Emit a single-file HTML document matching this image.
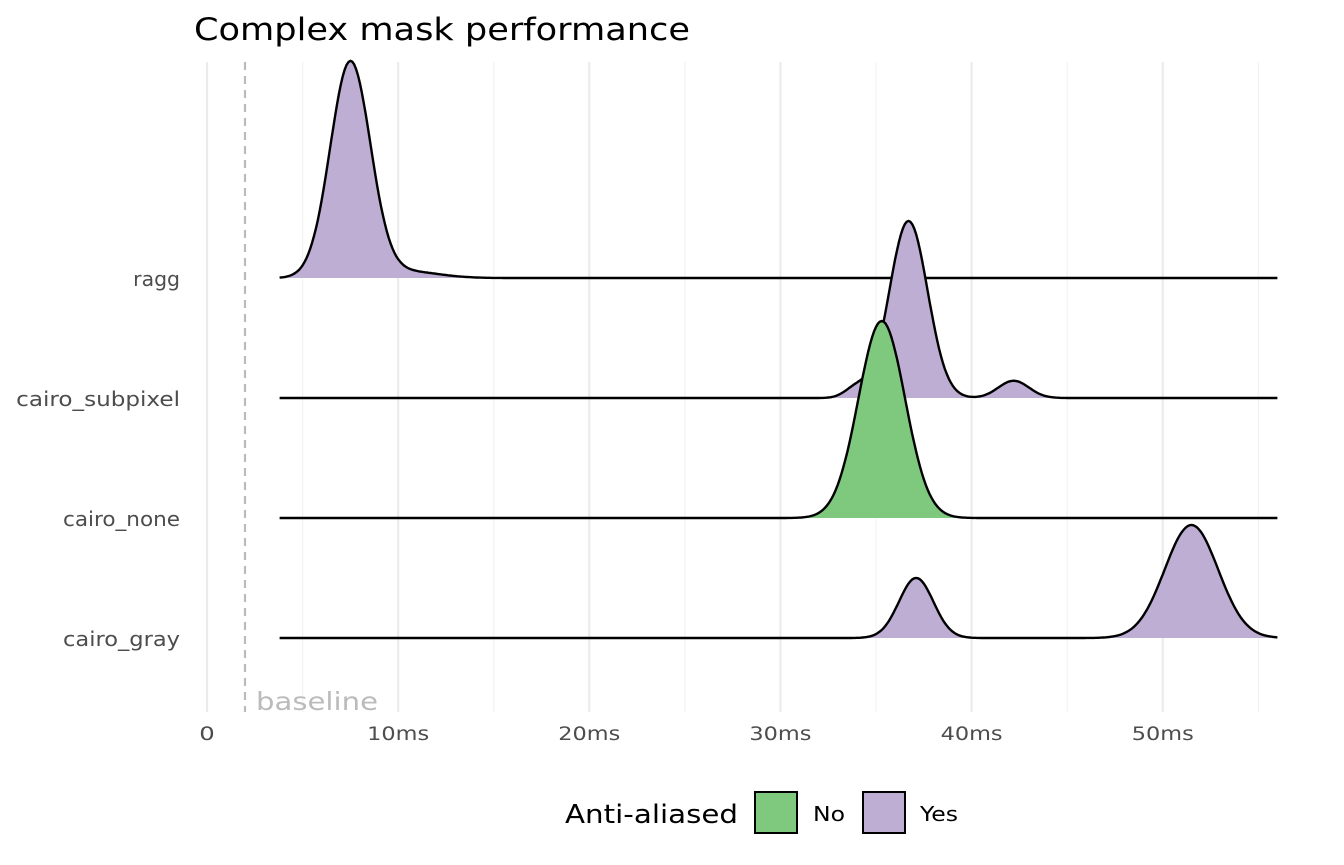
<!DOCTYPE html>
<html><head><meta charset="utf-8"><style>
body{margin:0;background:#fff;}
svg{display:block;font-family:"DejaVu Sans","Liberation Sans",sans-serif;}
</style></head><body>
<svg id="chart" width="1344" height="865" viewBox="0 0 1344 865">
<text x="194" y="40" font-size="31" fill="#000" textLength="496" lengthAdjust="spacingAndGlyphs">Complex mask performance</text>
<g id="grid"></g>
<line x1="245" x2="245" y1="62" y2="712" stroke="#bbb" stroke-width="2.2" stroke-dasharray="8,6"/>
<text x="256" y="710" font-size="25" fill="#bbb" textLength="122" lengthAdjust="spacingAndGlyphs">baseline</text>
<g id="ridges"></g>
<g id="ylabels"></g>
<g id="xlabels"></g>
<g>
<text x="565" y="823" font-size="26" fill="#000" textLength="173" lengthAdjust="spacingAndGlyphs">Anti-aliased</text>
<rect x="755" y="792" width="42" height="41" fill="#7fc97f" stroke="#000" stroke-width="2"/>
<text x="813" y="821" font-size="20" fill="#000" textLength="32" lengthAdjust="spacingAndGlyphs">No</text>
<rect x="863" y="792" width="42" height="41" fill="#beaed4" stroke="#000" stroke-width="2"/>
<text x="920" y="821" font-size="20" fill="#000" textLength="38" lengthAdjust="spacingAndGlyphs">Yes</text>
</g>
</svg>
<script>
const categories=["ragg","cairo_subpixel","cairo_none","cairo_gray"];
const antiAliased=["Yes","Yes","No","Yes"];
// density peak components per group: mean (ms), sd (ms), peak height (relative, 1 = tallest)
const peakMeans=[[7.5,10.5],[36.7,42.2,34.0],[35.3],[37.1,51.5]];
const peakSds=[[1.05,1.6],[1.0,0.8,0.6],[1.22],[0.9,1.4]];
const peakHeights=[[1.0,0.03],[0.82,0.08,0.05],[0.912],[0.278,0.523]];
const xTicks=[0,10,20,30,40,50];
const xTickLabels=["0","10ms","20ms","30ms","40ms","50ms"];
const xMinor=[5,15,25,35,45,55];
const xRange=[3.8,56];

const NS="http://www.w3.org/2000/svg";
const xs=v=>207+v*19.115;
const rowY=i=>278+i*120;
const hScale=216;
function mk(tag,attrs,parent){const e=document.createElementNS(NS,tag);for(const k in attrs)e.setAttribute(k,attrs[k]);parent.appendChild(e);return e;}
const grid=document.getElementById('grid');
xTicks.forEach((t,i)=>{const l=mk('line',{x1:xs(t),x2:xs(t),y1:62,y2:712,stroke:'#ebebeb','stroke-width':2.2},grid);

});
xMinor.forEach(t=>{const l=mk('line',{x1:xs(t),x2:xs(t),y1:62,y2:712,stroke:'#f2f2f2','stroke-width':1.2},grid);

});
const xl=document.getElementById('xlabels');
xTicks.forEach((t,i)=>{const w=xTickLabels[i].length*15.5;
const tx=mk('text',{x:xs(t),y:740,'font-size':19,fill:'#4d4d4d','text-anchor':'middle',textLength:w,lengthAdjust:'spacingAndGlyphs'},xl);tx.textContent=xTickLabels[i];

});
const yl=document.getElementById('ylabels');
const ridges=document.getElementById('ridges');
categories.forEach((c,i)=>{
  const tx=mk('text',{x:180,y:rowY(i)+8,'font-size':20,fill:'#4d4d4d','text-anchor':'end',textLength:c.length*11.7,lengthAdjust:'spacingAndGlyphs'},yl);tx.textContent=c;
  
  
  const pts=[];
  for(let v=xRange[0];v<=xRange[1]+1e-9;v+=0.1){
    let d=0;peakMeans[i].forEach((m,j)=>{const s=peakSds[i][j];d+=peakHeights[i][j]*Math.exp(-0.5*((v-m)/s)**2);});
    pts.push([xs(v),rowY(i)-d*hScale]);}
  const line='M'+pts.map(p=>p[0].toFixed(1)+','+p[1].toFixed(1)).join('L');
  const g=mk('g',{},ridges);
  
  
  const f=mk('path',{d:line+'L'+xs(xRange[1])+','+rowY(i)+'L'+xs(xRange[0])+','+rowY(i)+'Z',fill:antiAliased[i]==='Yes'?'#beaed4':'#7fc97f',stroke:'none'},g);
  
  
  const p=mk('path',{d:line,fill:'none',stroke:'#000','stroke-width':2.4},g);
  
  
});
</script>
</body></html>
